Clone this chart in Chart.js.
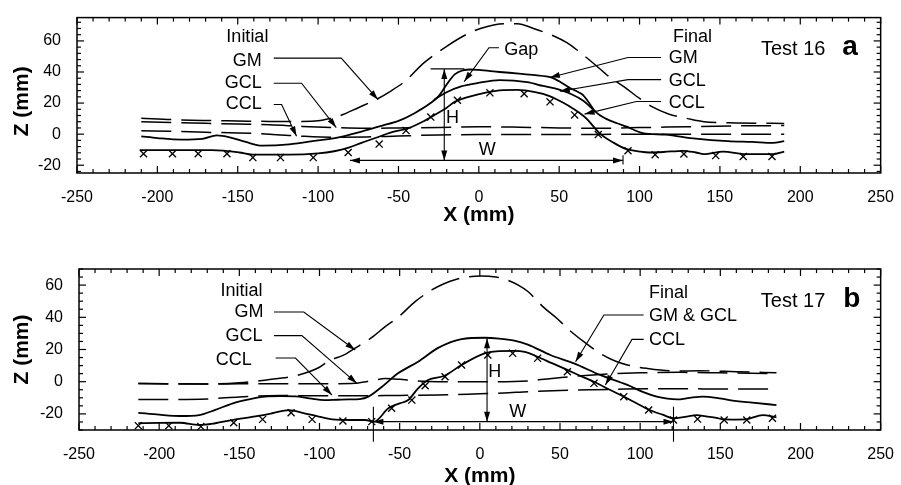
<!DOCTYPE html>
<html>
<head>
<meta charset="utf-8">
<script src="https://cdn.jsdelivr.net/npm/chart.js@4.4.1/dist/chart.umd.min.js"></script>
<style>
  body { margin: 0; background: #fff; width: 901px; height: 485px; position: relative; overflow: hidden; }
  #wrapA { position: absolute; left: 0; top: 0; width: 901px; height: 240px; }
  #wrapB { position: absolute; left: 0; top: 240px; width: 901px; height: 245px; }
</style>
</head>
<body>
<div id="wrapA"><canvas id="chartA"></canvas></div>
<div id="wrapB"><canvas id="chartB"></canvas></div>
<script>
// Tick labels
const xTickValues = [-250, -200, -150, -100, -50, 0, 50, 100, 150, 200, 250];
const zTickValues = [-20, 0, 20, 40, 60];

// ---- Test 16 (panel a) ----
// initial profiles (dashed)
const a_gmInit_x = [-210, -190, -170, -150, -130, -110, -100, -94, -86, -75, -63, -55, -46, -34, -20, -8, 1, 16, 24, 34, 47, 55, 62, 72, 81, 90, 100, 108, 118, 130, 140, 160, 190];
const a_gmInit_z = [10.3, 9.3, 8.8, 8.5, 8.2, 8.2, 8.6, 9.8, 12, 17, 22.8, 27.6, 34, 46, 56.5, 64, 68, 71, 71, 68, 63, 58.7, 53.4, 45, 37, 30.7, 23, 17.5, 13, 10, 8, 7.2, 6.9];
const a_gclInit_x = [-210, -190, -170, -150, -130, -110, -90, -70, -50, -25, 0, 25, 50, 75, 100, 130, 160, 190];
const a_gclInit_z = [8, 7.5, 7, 6.5, 6, 5, 4.2, 3.8, 4, 4.3, 4.8, 4.5, 4, 3.8, 4.2, 4.8, 5.3, 5.5];
const a_cclInit_x = [-210, -190, -170, -150, -130, -110, -90, -70, -50, -25, 0, 25, 50, 75, 100, 130, 160, 190];
const a_cclInit_z = [2.2, 1.8, 1.2, 0.8, 0, -1.3, -2, -1.8, -1.2, -0.5, -0.3, -0.3, -0.3, -0.2, 0, 0, 0, 0];
// final profiles (solid)
const a_gmFinal_x = [-210, -200, -185, -172, -163, -155, -145, -135, -118, -100, -88, -73, -60, -50, -40, -30, -25, -20, -15, -10, -5, 0, 13, 25, 35, 45, 50, 57, 62, 65, 68, 73, 79, 86, 92, 102, 116, 135, 155, 170, 183, 190];
const a_gmFinal_z = [-1.4, -2.5, -3.5, -3, -0.8, -2, -5, -7.4, -6.6, -4, -2.2, 1.7, 5.5, 8.5, 13.5, 20, 24.5, 32, 38.5, 41, 41.6, 41.3, 40, 39, 38, 36.5, 34, 29.5, 27, 25, 21, 14, 10, 7, 4.8, 0.7, -0.3, -2.9, -4.5, -5, -5.6, -4.5];
// GCL coincides with GM outside this stretch
const a_gclFinal_x = [-28, -20, -11, -1, 13, 30, 40, 50, 58, 65, 71];
const a_gclFinal_z = [22, 27, 30.7, 32.8, 34.8, 33.5, 31, 28.6, 25.5, 21.5, 16];
const a_cclFinal_x = [-211, -190, -166, -149, -141, -118, -100, -90, -81, -73, -63, -55, -44, -35, -28, -20, -15, -8, -1, 13, 24, 35, 44, 52, 59, 67, 75, 84, 92, 100, 106, 115, 127, 135, 140, 152, 166, 178, 183, 190];
const a_cclFinal_z = [-10.3, -10.3, -10.3, -11.8, -13.2, -13.2, -12.4, -11, -8.7, -5.6, -2, 1, 3.8, 8, 12.1, 17, 20.8, 23.5, 25.5, 28.2, 28.5, 27, 24.5, 20.5, 16.2, 10, 0.7, -5.6, -9.7, -11.2, -11.8, -11.5, -10.7, -11.8, -12.8, -11.2, -12.8, -12.8, -12.8, -11.2];
// measured points (x marks)
const a_meas_x = [-208.6, -190.6, -174.6, -156.7, -140.6, -123.4, -103, -81.3, -62, -45.3, -29.9, -13.3, 6.9, 28.2, 44.3, 59.6, 74.3, 92.8, 109.7, 127.6, 147.4, 164.5, 182.4];
const a_meas_z = [-12.6, -12.6, -12.6, -12.6, -15.1, -15.1, -15.1, -11.8, -6.4, 2.3, 11, 21.8, 26.6, 26, 20.8, 12.4, -0.3, -10.7, -13.2, -12.8, -13.8, -14.4, -14.4];

// ---- Test 17 (panel b) ----
const b_gmInit_x = [-213, -190, -171, -150, -133, -113, -100, -94, -85, -78, -68, -59, -51, -40, -30, -22, -15, -7, 1, 10, 17, 24, 30, 40, 48, 57, 66, 75, 84, 92, 104, 123, 137, 160, 185];
const b_gmInit_z = [-1, -1.3, -1.4, -0.6, 1.1, 4.2, 9, 13, 16.5, 20.7, 27, 34.2, 40, 50, 57, 61, 63.5, 65.2, 65.7, 65, 63.2, 60, 56, 46, 39.4, 31, 24, 17.6, 13, 10.4, 8.3, 6.6, 6.8, 6.2, 5.5];
const b_gclInit_x = [-213, -190, -170, -150, -130, -110, -90, -78, -68, -59, -50, -40, -26, -10, 10, 30, 40, 55, 75, 100, 125, 150, 185];
const b_gclInit_z = [-1.2, -1.4, -1.5, -1.3, -1.2, -1.2, -1.2, -1, 0.5, 2, 1.5, 0.5, 0, 0, 0, 0.5, 1.5, 3, 4.5, 5.5, 5.8, 5.5, 5];
const b_cclInit_x = [-213, -190, -170, -150, -125, -100, -75, -50, -26, 0, 15, 30, 50, 70, 90, 120, 150, 185];
const b_cclInit_z = [-11, -11, -10.7, -9.5, -8.5, -8.8, -8.8, -8.5, -8.3, -7.5, -7, -6.2, -5.5, -5, -4.6, -4.4, -4.5, -4.6];
const b_gmFinal_x = [-213, -200, -187, -175, -165, -154, -144, -134, -124, -113, -105, -97, -89, -82, -75, -69.5, -61, -51, -38.5, -26, -11.4, 3, 12, 21.5, 30, 44, 58.7, 75, 92, 102, 110.4, 117, 123, 131, 139, 147.6, 155.7, 170, 185];
const b_gmFinal_z = [-19.3, -20.5, -21.3, -20.7, -17.5, -13.4, -11, -9.3, -9, -9.3, -10.5, -11.4, -11.2, -11, -10.8, -9.3, -3.1, 5.2, 12.4, 21, 26.5, 27.3, 26.8, 25.5, 23, 16.6, 11.4, 4.2, -2, -6.5, -9.3, -10.5, -11, -10, -9.3, -10, -11.4, -13, -14.5];
const b_cclFinal_x = [-213, -200, -187, -175, -165, -154.5, -140, -129.5, -119, -110, -100.5, -92, -80, -71.5, -66, -57, -50, -44.7, -38.5, -32.3, -22, -11.4, 2.9, 12, 21.5, 28, 36, 45, 54.6, 63, 71.2, 80, 89.8, 98, 106, 114, 120.8, 128, 135.4, 141, 147.6, 151.8, 160, 166, 176.4, 185];
const b_cclFinal_z = [-25.8, -25.6, -25.5, -26.9, -25.8, -23.8, -21.5, -19.6, -17.6, -19.5, -21.7, -23.4, -23.8, -23.8, -24.8, -16.5, -13.5, -11.4, -4.1, 1.1, 3.7, 10.4, 17.6, 19, 19.1, 18.5, 15.5, 11.5, 7.3, 3.5, 0, -4.5, -9.3, -13.5, -17.6, -20.5, -22.7, -21.8, -20.7, -21.5, -22.4, -23.4, -23.5, -23.4, -20.7, -22.1];
const b_meas_x = [-213, -194, -174, -153.5, -135.5, -117.7, -104.6, -85.4, -67.4, -55, -42.4, -34.1, -21.7, -11.4, 5, 20.5, 36, 54.6, 71.2, 89.8, 105.3, 120.8, 135.8, 152.4, 166.5, 182.5];
const b_meas_z = [-27.3, -27.3, -27.9, -25.5, -23.4, -19.3, -23.4, -24.4, -24.8, -16.5, -11.4, -2.5, 3.1, 10.4, 16.6, 17.6, 14.5, 6.2, -1, -9.3, -17.6, -23.8, -23.2, -23.8, -23.8, -22.7];

const FONT = "'Liberation Sans', Arial, sans-serif";

function pts(xs, zs) {
  return xs.map((x, i) => ({ x: x, y: zs[i] }));
}

function curve(xs, zs, dashed) {
  return {
    data: pts(xs, zs),
    showLine: true,
    borderColor: "#000",
    borderWidth: dashed ? 1.5 : 1.8,
    borderDash: dashed ? [30, 10] : [],
    pointRadius: 0,
    cubicInterpolationMode: "monotone",
  };
}

function marks(xs, zs) {
  return {
    data: pts(xs, zs),
    showLine: false,
    pointStyle: "crossRot",
    pointRadius: 5,
    borderWidth: 1.3,
    borderColor: "#000",
    clip: false,
  };
}

function drawLine(ctx, x0, y0, x1, y1) {
  ctx.beginPath();
  ctx.moveTo(x0, y0);
  ctx.lineTo(x1, y1);
  ctx.stroke();
}

function arrowHead(ctx, x0, y0, x1, y1) {
  const a = Math.atan2(y1 - y0, x1 - x0);
  const len = 10, half = 3;
  ctx.beginPath();
  ctx.moveTo(x1, y1);
  ctx.lineTo(x1 - len * Math.cos(a) + half * Math.sin(a), y1 - len * Math.sin(a) - half * Math.cos(a));
  ctx.lineTo(x1 - len * Math.cos(a) - half * Math.sin(a), y1 - len * Math.sin(a) + half * Math.cos(a));
  ctx.closePath();
  ctx.fill();
}

// frame, inward ticks, axis titles and the call-out notes
const frameAndNotes = {
  id: "frameAndNotes",
  afterDraw(chart, args, opts) {
    const ctx = chart.ctx;
    const area = chart.chartArea;
    const sx = chart.scales.x, sy = chart.scales.y;
    const px = v => sx.getPixelForValue(v);
    const py = v => sy.getPixelForValue(v);
    ctx.save();
    ctx.strokeStyle = "#000";
    ctx.fillStyle = "#000";
    ctx.lineWidth = 1.2;
    for (let v = -250; v <= 250; v += 10) {
      const len = v % 50 === 0 ? 7 : 4;
      const x = px(v);
      drawLine(ctx, x, area.bottom, x, area.bottom - len);
      drawLine(ctx, x, area.top, x, area.top + len);
    }
    const step = opts.minorZ;
    for (let v = Math.ceil(sy.min / step) * step; v <= sy.max; v += step) {
      const len = v % 20 === 0 ? 7 : 4;
      const y = py(v);
      drawLine(ctx, area.left, y, area.left + len, y);
      drawLine(ctx, area.right, y, area.right - len, y);
    }
    ctx.lineWidth = 1.5;
    ctx.strokeRect(area.left, area.top, area.right - area.left, area.bottom - area.top);

    // leaders and dimension arrows
    ctx.lineWidth = 1.1;
    for (const ld of opts.leaders) {
      const p = ld.pts.map(q => [px(q[0]), py(q[1])]);
      ctx.beginPath();
      ctx.moveTo(p[0][0], p[0][1]);
      for (let i = 1; i < p.length; i++) ctx.lineTo(p[i][0], p[i][1]);
      ctx.stroke();
      const n = p.length;
      if (ld.head === "end" || ld.head === "both") arrowHead(ctx, p[n - 2][0], p[n - 2][1], p[n - 1][0], p[n - 1][1]);
      if (ld.head === "both") arrowHead(ctx, p[1][0], p[1][1], p[0][0], p[0][1]);
    }

    // notes
    for (const t of opts.texts) {
      ctx.font = (t.bold ? "bold " : "") + (t.size || 18) + "px " + FONT;
      ctx.textAlign = t.align;
      ctx.textBaseline = t.base || "middle";
      ctx.fillText(t.t, px(t.x), py(t.z));
    }

    // axis titles
    ctx.font = "bold 21px " + FONT;
    ctx.textAlign = "center";
    ctx.textBaseline = "middle";
    ctx.fillText("X (mm)", (area.left + area.right) / 2, area.bottom + opts.xTitleGap);
    ctx.translate(22, (area.top + area.bottom) / 2 + opts.zTitleShift);
    ctx.rotate(-Math.PI / 2);
    ctx.fillText("Z (mm)", 0, 0);
    ctx.restore();
  }
};

function makeChart(id, datasets, zMin, zMax, box, notes) {
  return new Chart(document.getElementById(id), {
    type: "scatter",
    data: { datasets: datasets },
    plugins: [frameAndNotes],
    options: {
      responsive: true,
      maintainAspectRatio: false,
      animation: false,
      layout: { padding: { left: 0, right: box.right, top: box.top, bottom: 0 } },
      plugins: {
        legend: { display: false },
        tooltip: { enabled: false },
        frameAndNotes: notes,
      },
      scales: {
        x: {
          type: "linear",
          min: -250,
          max: 250,
          afterBuildTicks: s => { s.ticks = xTickValues.map(v => ({ value: v })); },
          afterFit: s => { s.height = box.xHeight; },
          grid: { display: false },
          border: { display: false },
          ticks: { color: "#000", font: { family: FONT, size: 16 }, padding: 7, maxRotation: 0, autoSkip: false },
        },
        y: {
          type: "linear",
          min: zMin,
          max: zMax,
          afterBuildTicks: s => { s.ticks = zTickValues.map(v => ({ value: v })); },
          afterFit: s => { s.width = box.yWidth; },
          grid: { display: false },
          border: { display: false },
          ticks: { color: "#000", font: { family: FONT, size: 16 }, padding: 8, autoSkip: false },
        },
      },
    },
  });
}

makeChart("chartA", [
  curve(a_gmInit_x, a_gmInit_z, true),
  curve(a_gclInit_x, a_gclInit_z, true),
  curve(a_cclInit_x, a_cclInit_z, true),
  curve(a_gmFinal_x, a_gmFinal_z, false),
  curve(a_gclFinal_x, a_gclFinal_z, false),
  curve(a_cclFinal_x, a_cclFinal_z, false),
  marks(a_meas_x, a_meas_z),
], -25, 75, { right: 15, top: 12, xHeight: 67, yWidth: 77 }, {
  minorZ: 4,
  xTitleGap: 42,
  zTitleShift: 6,
  texts: [
    { t: "Initial", x: -144, z: 62.6, align: "center" },
    { t: "GM", x: -135, z: 47, align: "right" },
    { t: "GCL", x: -135, z: 32.8, align: "right" },
    { t: "CCL", x: -135, z: 19.1, align: "right" },
    { t: "Gap", x: 15.8, z: 53.9, align: "left" },
    { t: "H", x: -16.4, z: 10.4, align: "center" },
    { t: "W", x: 5.3, z: -10.1, align: "center" },
    { t: "Final", x: 120.8, z: 62.6, align: "left" },
    { t: "GM", x: 118.2, z: 48.9, align: "left" },
    { t: "GCL", x: 118.2, z: 34, align: "left" },
    { t: "CCL", x: 118.2, z: 20.3, align: "left" },
    { t: "Test 16", x: 195.6, z: 50.8, align: "center", size: 20, base: "alphabetic" },
    { t: "a", x: 231, z: 50.8, align: "center", size: 28, bold: true, base: "alphabetic" },
  ],
  leaders: [
    { pts: [[-127.6, 48.9], [-85.6, 48.9], [-62.7, 22.2]], head: "end" },
    { pts: [[-127.6, 32.8], [-110.3, 32.8], [-88.7, 4.2]], head: "end" },
    { pts: [[-127.6, 19.1], [-122.7, 19.1], [-113.4, -1.4]], head: "end" },
    { pts: [[12.5, 55.6], [6.3, 55.6], [-9.1, 33.8]], head: "end" },
    { pts: [[113.4, 49.3], [92.8, 49.3], [44.2, 36.5]], head: "end" },
    { pts: [[113.4, 35.1], [92.8, 35.1], [50.4, 27.6]], head: "end" },
    { pts: [[113.4, 21], [98, 21], [65.8, 12.9]], head: "end" },
    { pts: [[-21.5, 42], [-21.5, -16.9]], head: "both" },
    { pts: [[-30, 42], [-9, 42]] },
    { pts: [[-80.2, -16.9], [89.7, -16.9]], head: "both" },
    { pts: [[89.7, -13.5], [89.7, -19.5]] },
  ],
});

makeChart("chartB", [
  curve(b_gmInit_x, b_gmInit_z, true),
  curve(b_gclInit_x, b_gclInit_z, true),
  curve(b_cclInit_x, b_cclInit_z, true),
  curve(b_gmFinal_x, b_gmFinal_z, false),
  curve(b_cclFinal_x, b_cclFinal_z, false),
  marks(b_meas_x, b_meas_z),
], -30, 70, { right: 16, top: 29, xHeight: 55, yWidth: 79 }, {
  minorZ: 5,
  xTitleGap: 46,
  zTitleShift: 0,
  texts: [
    { t: "Initial", x: -148.6, z: 56.3, align: "center" },
    { t: "GM", x: -135, z: 43.5, align: "right" },
    { t: "GCL", x: -135.5, z: 28.6, align: "right" },
    { t: "CCL", x: -142.2, z: 13.5, align: "right" },
    { t: "H", x: 9.3, z: 6, align: "center" },
    { t: "W", x: 23.6, z: -18.8, align: "center" },
    { t: "Final", x: 105.5, z: 55.1, align: "left" },
    { t: "GM & GCL", x: 105.5, z: 40.8, align: "left" },
    { t: "CCL", x: 105.5, z: 25.9, align: "left" },
    { t: "Test 17", x: 195.4, z: 46.4, align: "center", size: 20, base: "alphabetic" },
    { t: "b", x: 232, z: 46.4, align: "center", size: 28, bold: true, base: "alphabetic" },
  ],
  leaders: [
    { pts: [[-128.4, 43.3], [-109.8, 43.3], [-77.7, 19.7]], head: "end" },
    { pts: [[-128.4, 28.6], [-111, 28.6], [-76.7, -1]], head: "end" },
    { pts: [[-127.4, 14.7], [-115, 14.7], [-92.2, -8.3]], head: "end" },
    { pts: [[4.5, 27], [4.5, -24.8]], head: "both" },
    { pts: [[-66.4, -24.8], [120.8, -24.8]], head: "both" },
    { pts: [[-66.4, -15.5], [-66.4, -37.3]] },
    { pts: [[120.8, -15.5], [120.8, -37.3]] },
    { pts: [[102.2, 41.4], [77.4, 41.4], [59.7, 12.4]], head: "end" },
    { pts: [[102.2, 26.3], [94.9, 26.3], [78.3, -2]], head: "end" },
  ],
});
</script>
</body>
</html>
